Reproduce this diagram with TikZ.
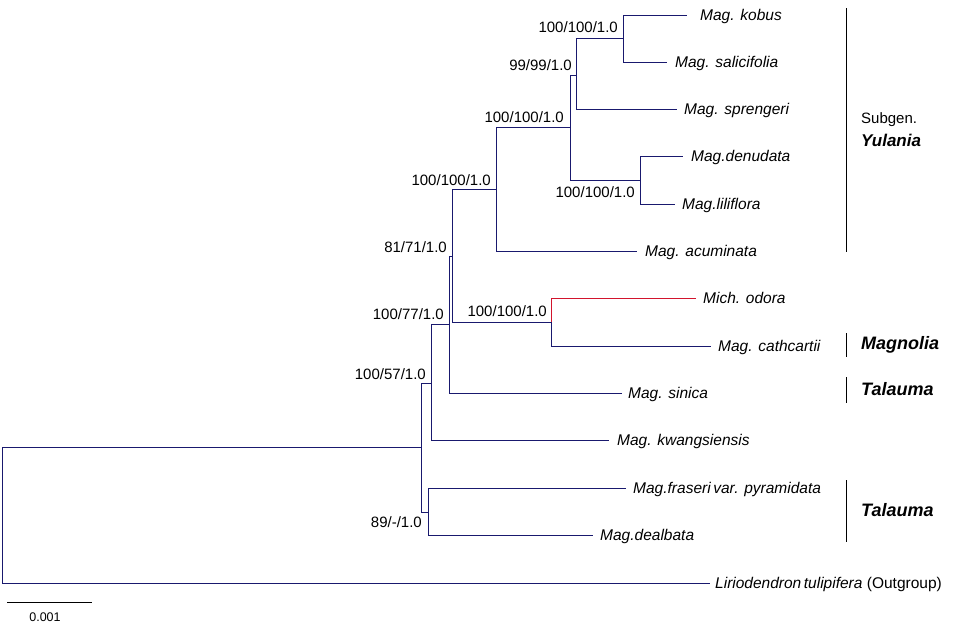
\documentclass[tikz,border=0pt]{standalone}
\usepackage{fontspec}
\setmainfont{Liberation Sans}
\definecolor{branch}{RGB}{25,25,110}
\definecolor{redbr}{RGB}{210,20,45}
\tikzset{
  br/.style={draw=branch, line width=1pt},
  redb/.style={draw=redbr, line width=1pt},
  leaf/.style={anchor=west, inner sep=0pt, text height=0.716em, text depth=0pt, yshift=-2pt,
    font=\fontsize{15.5}{17}\selectfont\itshape},
  supp/.style={anchor=east, inner sep=0pt, text height=0.716em, text depth=0pt, yshift=-2pt,
    font=\fontsize{15}{17}\selectfont},
  clade/.style={anchor=west, inner sep=0pt, text height=0.716em, text depth=0pt, yshift=-2.5pt,
    font=\fontsize{18}{20}\selectfont\bfseries\itshape},
  plain/.style={anchor=west, inner sep=0pt, text height=0.716em, text depth=0pt, yshift=-2pt,
    font=\fontsize{15}{17}\selectfont},
  cladebar/.style={draw=black, line width=1pt},
}
\begin{document}
\begin{tikzpicture}[x=1pt, y=-1pt]
\useasboundingbox[fill=white] (0,0) rectangle (957,632);

% internal nodes
\coordinate (root) at (2,447);
\coordinate (A) at (421,447);
\coordinate (B) at (431,383);
\coordinate (C) at (449,324);
\coordinate (D) at (452,256);
\coordinate (E) at (496,189);
\coordinate (G) at (570,127);
\coordinate (H) at (576,75);
\coordinate (K) at (623,38);
\coordinate (I) at (640,180);
\coordinate (O) at (551,322);
\coordinate (F) at (428,512);

% leaf tips
\coordinate (kobE) at (687,15);
\coordinate (salE) at (667,62);
\coordinate (sprE) at (677,109);
\coordinate (denE) at (683,156);
\coordinate (lilE) at (675,204);
\coordinate (acuE) at (637,251);
\coordinate (odoE) at (696,298);
\coordinate (catE) at (711,346);
\coordinate (sinE) at (622,393);
\coordinate (kwE) at (609,440);
\coordinate (fraE) at (626,488);
\coordinate (dealE) at (593,535);
\coordinate (outE) at (710,583);

% leaf labels
\node[leaf] (kob) at (700,15) {Mag. kobus};
\node[leaf] (sal) at (675,62) {Mag. salicifolia};
\node[leaf] (spr) at (684,109) {Mag. sprengeri};
\node[leaf] (den) at (691,156) {Mag.denudata};
\node[leaf] (lil) at (682,204) {Mag.liliflora};
\node[leaf] (acu) at (645,251) {Mag. acuminata};
\node[leaf] (odo) at (703,298) {Mich. odora};
\node[leaf] (cat) at (718,346) {Mag. cathcartii};
\node[leaf] (sin) at (628,393) {Mag. sinica};
\node[leaf] (kw) at (617,440) {Mag. kwangsiensis};
\node[leaf] (fra) at (633,488) {Mag.fraseri\,var. pyramidata};
\node[leaf] (deal) at (600,535) {Mag.dealbata};
\node[leaf] (out) at (715,583) {Liriodendron\,tulipifera\upshape{} (Outgroup)};

% branches
\draw[br] (root) |- (A);
\draw[br] (root) |- (outE);
\draw[br] (A) |- (B);
\draw[br] (A) |- (F);
\draw[br] (B) |- (C);
\draw[br] (B) |- (kwE);
\draw[br] (C) |- (D);
\draw[br] (C) |- (sinE);
\draw[br] (D) |- (E);
\draw[br] (D) |- (O);
\draw[br] (E) |- (G);
\draw[br] (E) |- (acuE);
\draw[br] (G) |- (H);
\draw[br] (G) |- (I);
\draw[br] (H) |- (K);
\draw[br] (H) |- (sprE);
\draw[br] (K) |- (kobE);
\draw[br] (K) |- (salE);
\draw[br] (I) |- (denE);
\draw[br] (I) |- (lilE);
\draw[redb] (O) |- (odoE);
\draw[br] (O) |- (catE);
\draw[br] (F) |- (fraE);
\draw[br] (F) |- (dealE);

% support values
\node[supp] (sK) at (618,27) {100/100/1.0};
\node[supp] (sH) at (572,65) {99/99/1.0};
\node[supp] (sG) at (564,117) {100/100/1.0};
\node[supp] (sI) at (635,192) {100/100/1.0};
\node[supp] (sE) at (491,180) {100/100/1.0};
\node[supp] (sD) at (447,247) {81/71/1.0};
\node[supp] (sC) at (444,314) {100/77/1.0};
\node[supp] (sO) at (547,311) {100/100/1.0};
\node[supp] (sB) at (426,374) {100/57/1.0};
\node[supp] (sF) at (422,522) {89/-/1.0};

% clade bars and names
\coordinate (y1) at (846,8);   \coordinate (y2) at (846,252);
\coordinate (m1) at (846,333); \coordinate (m2) at (846,357);
\coordinate (t1) at (846,377); \coordinate (t2) at (846,403);
\coordinate (u1) at (846,480); \coordinate (u2) at (846,542);
\draw[cladebar] (y1) -- (y2);
\draw[cladebar] (m1) -- (m2);
\draw[cladebar] (t1) -- (t2);
\draw[cladebar] (u1) -- (u2);
\node[plain] (subgen) at (861,118) {Subgen.};
\node[clade, font=\fontsize{17}{19}\selectfont\bfseries\itshape] (yul) at (861,140) {Yulania};
\node[clade] (mag) at (861,343) {Magnolia};
\node[clade] (tal1) at (861,389) {Talauma};
\node[clade] (tal2) at (861,510) {Talauma};

% scale bar
\coordinate (sb1) at (7,602);
\coordinate (sb2) at (92,602);
\draw[draw=black, line width=1pt] (sb1) -- (sb2);
\node[anchor=center, inner sep=0pt, text height=0.716em, text depth=0pt,
  font=\fontsize{12.5}{14}\selectfont] (scale) at (45,618) {0.001};
\end{tikzpicture}
\end{document}
